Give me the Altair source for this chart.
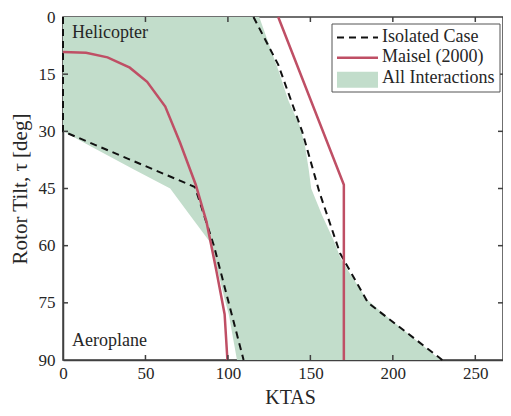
import altair as alt
import pandas as pd

W, H = 440, 343
FONT = "Liberation Serif"
AX = "#404040"
TXT = "#262626"
RED = "#bf4f65"
GREEN = "#c2ddcb"

x_ticks = [0, 50, 100, 150, 200, 250]
y_ticks = [0, 15, 30, 45, 60, 75, 90]

# All Interactions region (left / right boundaries read at common tilt values)
area_tau = [0, 8, 14, 22, 29, 30, 34, 40, 45, 52, 59, 63, 67, 74, 78, 90]
area_left = [0, 0, 0, 0, 0, 0, 17, 43, 65, 77, 89, 91.5, 94, 98, 100.5, 105.5]
area_right = [119, 125.6, 130.6, 136.7, 144, 144.5, 146.8, 149, 150.5, 157.1, 164.5, 168, 173.5, 184, 194.6, 229]

# Isolated case (dashed)
iso_left_x = [0, 0, 80, 91.5, 109.5]
iso_left_tau = [0, 30, 44.6, 60, 90]
iso_right_x = [115.5, 130.5, 145, 155.5, 168, 185, 230]
iso_right_tau = [0, 12.5, 30, 46, 62, 75, 90]

# Maisel (2000)
maisel_left_x = [0, 14, 27, 40.5, 51, 62, 71, 80.5, 87, 93, 98, 99.7]
maisel_left_tau = [9.2, 9.4, 10.6, 13.3, 17, 23.5, 33, 44, 53.7, 66.6, 78, 90]
maisel_right_x = [130.5, 170.3, 170.3]
maisel_right_tau = [0, 44, 90]

legend_labels = ["Isolated Case", "Maisel (2000)", "All Interactions"]
region_labels = ["Helicopter", "Aeroplane"]

xs = alt.Scale(domain=[0, 266.8], nice=False, zero=False)
ys = alt.Scale(domain=[0, 90], reverse=True, nice=False, zero=False)

area_df = pd.DataFrame({"tau": area_tau, "left": area_left, "right": area_right})


def seg_df(parts):
    rows = []
    for name, xv, tv in parts:
        for i, (a, b) in enumerate(zip(xv, tv)):
            rows.append({"part": name, "idx": i, "x": a, "tau": b})
    return pd.DataFrame(rows)


iso_df = seg_df([("L", iso_left_x, iso_left_tau), ("R", iso_right_x, iso_right_tau)])
mai_df = seg_df([("L", maisel_left_x, maisel_left_tau), ("R", maisel_right_x, maisel_right_tau)])

x_axis = alt.Axis(values=x_ticks, title="KTAS", tickSize=0, labelPadding=5,
                  labelFont=FONT, titleFont=FONT, labelFontSize=17, titleFontSize=20,
                  labelColor=TXT, titleColor=TXT, titleFontWeight="normal",
                  domainColor=AX, domainWidth=1.5, grid=False, labelFlush=False,
                  titleX=227, titleY=43, titleAlign="center", titleBaseline="alphabetic")
y_axis = alt.Axis(values=y_ticks, title="Rotor Tilt, τ [deg]", tickSize=0, labelPadding=8,
                  labelFont=FONT, titleFont=FONT, labelFontSize=17, titleFontSize=21,
                  labelColor=TXT, titleColor=TXT, titleFontWeight="normal",
                  domainColor=AX, domainWidth=1.5, grid=False, labelFlush=False,
                  titleX=-43, titleY=H / 2, titleAngle=270, titleAlign="center",
                  titleBaseline="middle")


def X(f):
    return alt.X(f, scale=xs, axis=x_axis)


def Y(f):
    return alt.Y(f, scale=ys, axis=y_axis)


area = alt.Chart(area_df).mark_area(orient="horizontal", color=GREEN, opacity=1).encode(
    y=Y("tau:Q"), x=X("left:Q"), x2="right:Q",
)

iso = alt.Chart(iso_df).mark_line(color="#111111", strokeWidth=2, strokeDash=[7, 5]).encode(
    x=X("x:Q"), y=Y("tau:Q"), detail="part:N", order="idx:Q",
)

mai = alt.Chart(mai_df).mark_line(color=RED, strokeWidth=2.5).encode(
    x=X("x:Q"), y=Y("tau:Q"), detail="part:N", order="idx:Q",
)

# inward ticks
xt = pd.DataFrame({"v": x_ticks[1:]})
yt = pd.DataFrame({"v": y_ticks[1:-1]})
tick_style = dict(color=AX, strokeWidth=1.5)
tb = alt.Chart(xt).mark_rule(**tick_style).encode(x=X("v:Q"), y=alt.value(H), y2=alt.value(H - 5))
tt = alt.Chart(xt).mark_rule(**tick_style).encode(x=X("v:Q"), y=alt.value(0), y2=alt.value(5))
tl = alt.Chart(yt).mark_rule(**tick_style).encode(y=Y("v:Q"), x=alt.value(0), x2=alt.value(5))
tr = alt.Chart(yt).mark_rule(**tick_style).encode(y=Y("v:Q"), x=alt.value(W), x2=alt.value(W - 5))

one = pd.DataFrame({"k": [0]})
txt_style = dict(font=FONT, fontSize=18, color=TXT, align="left", baseline="alphabetic")

heli = alt.Chart(pd.DataFrame({"t": [region_labels[0]]})).mark_text(**txt_style).encode(
    text="t:N", x=alt.value(9), y=alt.value(21))
aero = alt.Chart(pd.DataFrame({"t": [region_labels[1]]})).mark_text(**txt_style).encode(
    text="t:N", x=alt.value(9), y=alt.value(329))

box = alt.Chart(one).mark_rect(fill="white", stroke="#555555", strokeWidth=1).encode(
    x=alt.value(269), x2=alt.value(437), y=alt.value(7), y2=alt.value(75))
sym1 = alt.Chart(one).mark_rule(color="#111111", strokeWidth=2, strokeDash=[7, 5]).encode(
    x=alt.value(274), x2=alt.value(315), y=alt.value(20.5))
sym2 = alt.Chart(one).mark_rule(color=RED, strokeWidth=2.5).encode(
    x=alt.value(274), x2=alt.value(315), y=alt.value(40.7))
sym3 = alt.Chart(one).mark_rect(color=GREEN).encode(
    x=alt.value(274), x2=alt.value(315), y=alt.value(54.7), y2=alt.value(70.7))
lab = []
for lbl, yy in zip(legend_labels, [24.5, 45, 66]):
    lab.append(alt.Chart(pd.DataFrame({"t": [lbl]})).mark_text(**txt_style).encode(
        text="t:N", x=alt.value(319), y=alt.value(yy)))

chart = alt.layer(area, iso, mai, tb, tt, tl, tr, heli, aero, box, sym1, sym2, sym3, *lab).properties(
    width=W, height=H,
    padding={"left": 55, "top": 9, "right": 0, "bottom": 48},
    autosize=alt.AutoSizeParams(type="none"),
).configure_view(stroke=AX, strokeWidth=1.5)

chart.save("out.html", embed_options={"renderer": "svg", "actions": False})
